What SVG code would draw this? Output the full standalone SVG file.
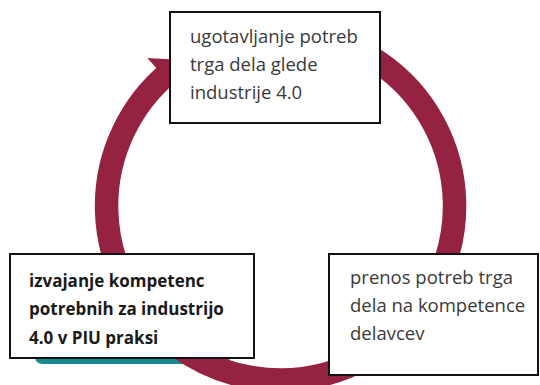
<svg xmlns="http://www.w3.org/2000/svg" width="540" height="385" viewBox="0 0 540 385">
  <style>
    .box { fill: #ffffff; stroke: #111111; stroke-width: 2; }
    .txt { font-family: "Open Sans", "Liberation Sans", sans-serif; font-size: 18.5px; fill: #3a3a3a; }
    .bold { font-weight: bold; font-size: 17px; fill: #1a1a1a; }
    .ring { fill: none; stroke: #962242; stroke-width: 23.5; }
  </style>
  <rect x="35" y="330" width="195" height="34" rx="7" fill="#178a8e"/>
  <g id="connectors">
    <path class="ring" d="M310.7,34.6 A174,174 0 1 1 168.7,72.7"/>
    <polygon points="147.3,58.1 182.7,60 180.8,95.3" fill="#962242"/>
  </g>
  <g id="node-top">
    <rect class="box" x="170" y="12" width="210" height="111"/>
    <text class="txt" x="190" y="42.5">ugotavljanje potreb</text>
    <text class="txt" x="190" y="70.5">trga dela glede</text>
    <text class="txt" x="190" y="98.5">industrije 4.0</text>
  </g>
  <g id="node-left">
    <rect class="box" x="10" y="254" width="244" height="104"/>
    <text class="txt bold" x="29" y="287">izvajanje kompetenc</text>
    <text class="txt bold" x="29" y="315">potrebnih za industrijo</text>
    <text class="txt bold" x="29" y="343.5">4.0 v PIU praksi</text>
  </g>
  <g id="node-right">
    <rect class="box" x="329" y="254" width="209" height="121"/>
    <text class="txt" x="350" y="283.5">prenos potreb trga</text>
    <text class="txt" x="350" y="311.5">dela na kompetence</text>
    <text class="txt" x="350" y="339.5">delavcev</text>
  </g>
</svg>
